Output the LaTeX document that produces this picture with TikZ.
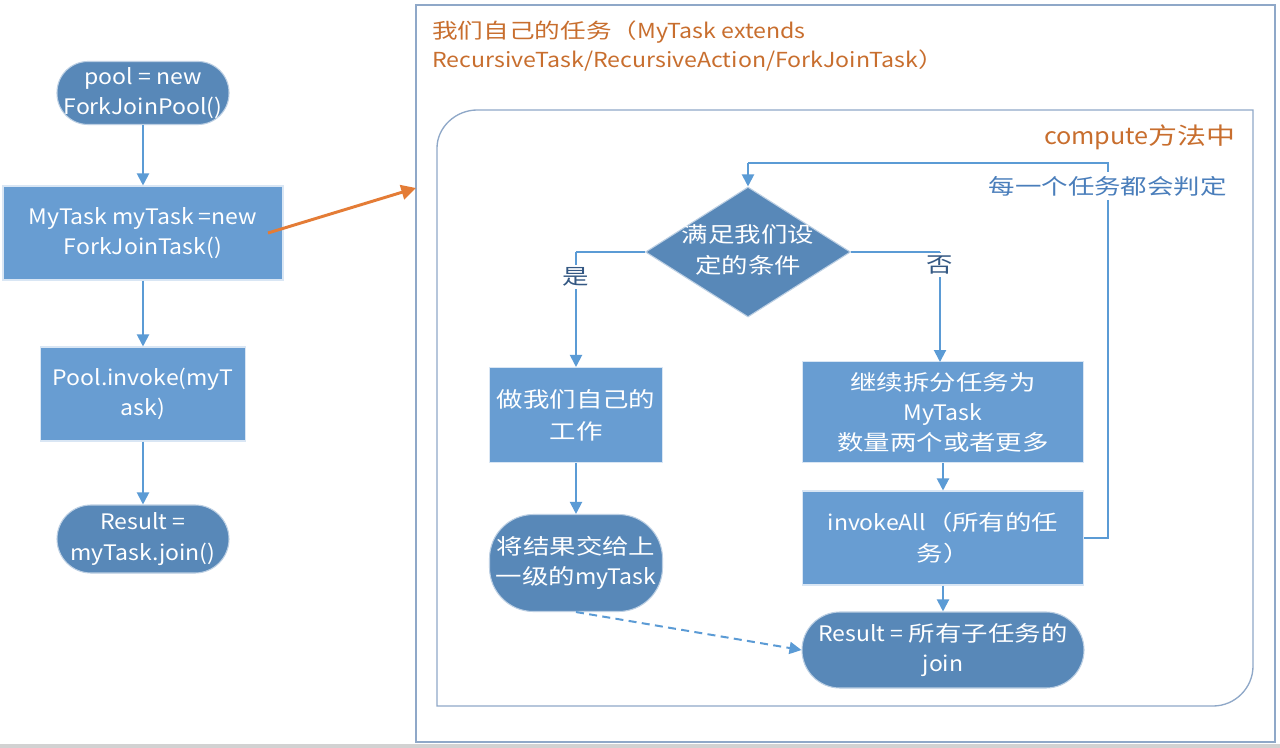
\documentclass[tikz,border=0pt]{standalone}
\usepackage{fontspec}
\setmainfont{Noto Sans CJK SC}[FakeStretch=1.08]
\newfontfamily\cj{Noto Sans CJK SC}[FakeStretch=1.24]
\newfontfamily\ttlat{Noto Sans CJK SC}[FakeStretch=1.12]
\usetikzlibrary{arrows.meta,calc,shapes.geometric}
\definecolor{darkfill}{RGB}{88,136,184}
\definecolor{lightfill}{RGB}{104,157,210}
\definecolor{arr}{RGB}{91,155,213}
\definecolor{ttl}{RGB}{200,110,46}
\definecolor{oarr}{RGB}{228,124,54}
\definecolor{lbl}{RGB}{74,126,187}
\definecolor{frame}{RGB}{143,168,200}
\tikzset{
  txt/.style={text=white,font=\fontsize{16}{23}\selectfont,align=center,inner sep=0pt},
  rectbox/.style={txt,fill=lightfill,draw=white!75!lightfill,line width=0.8pt},
  stadium/.style={txt,fill=darkfill,draw=white!60!darkfill,line width=0.8pt},
  flow/.style={draw=arr,line width=1.5pt,-{Triangle[width=9pt,length=9pt]}},
  plain/.style={draw=arr,line width=1.5pt},
  lab/.style={fill=white,inner sep=2pt,font=\fontsize{16}{23}\selectfont\cj},
}
\begin{document}
\begin{tikzpicture}[x=0.75pt,y=-0.75pt]
\useasboundingbox (0,0) rectangle (1280,748);
\fill[white] (0,0) rectangle (1280,748);
\fill[gray!35] (0,744) rectangle (1280,748);
% left column
\node[stadium,minimum width={172*0.75pt},minimum height={63*0.75pt},rounded corners={31*0.75pt}] (pool) at (143,93) {pool = new\\ForkJoinPool()};
\node[rectbox,minimum width={280*0.75pt},minimum height={94*0.75pt}] (mytask) at (143,233) {MyTask myTask =new\\ForkJoinTask()};
\node[rectbox,minimum width={205*0.75pt},minimum height={94*0.75pt}] (invoke) at (143,394) {Pool.invoke(myT\\ask)};
\node[stadium,minimum width={172*0.75pt},minimum height={68*0.75pt},rounded corners={34*0.75pt}] (result) at (143,539) {Result =\\myTask.join()};
\draw[flow] (pool) -- (mytask);
\draw[flow] (mytask) -- (invoke);
\draw[flow] (invoke) -- (result);
% outer frame
\draw[frame,line width=1pt] (416,5) rectangle (1275,742);
\node[anchor=north west,text=ttl,align=left,inner sep=0pt,font=\fontsize{15.5}{21.5}\selectfont\ttlat] (title) at (432,21) {{\cj 我们自己的任务（}MyTask extends\\RecursiveTask/RecursiveAction/ForkJoinTask{\cj ）}};
\coordinate (oa) at (268,233);
\coordinate (ob) at (416,188);
\draw[oarr,line width=2.2pt,-{Triangle[width=11pt,length=11pt]}] (oa) -- (ob);
% inner frame
\draw[frame,line width=1pt] (437,706) -- (437,148) .. controls (437,127) and (456,110) .. (477,110) -- (1253,110) -- (1253,666) .. controls (1253,688) and (1235,706) .. (1213,706) -- cycle;
\node[anchor=north east,text=ttl,inner sep=0pt,font=\fontsize{17.5}{21}\selectfont] (comp) at (1236,124) {compute{\cj 方法中}};
% diamond
\node[fill=darkfill,draw=white!60!darkfill,line width=0.8pt,shape=diamond,minimum width={205*0.75pt},minimum height={130*0.75pt},inner sep=0pt] (cond) at (748,252) {};
\node[txt,font=\fontsize{16}{23}\selectfont\cj] (condt) at (748,250) {满足我们设\\定的条件};
\node[rectbox,minimum width={173*0.75pt},minimum height={95*0.75pt},font=\fontsize{16}{24}\selectfont\cj] (work) at (576,415) {做我们自己的\\工作};
\node[stadium,minimum width={173*0.75pt},minimum height={97*0.75pt},rounded corners={44*0.75pt}] (give) at (576,563) {{\cj 将结果交给上}\\{\cj 一级的}myTask};
\node[rectbox,minimum width={281*0.75pt},minimum height={101*0.75pt},font=\fontsize{16}{22.5}\selectfont] (split) at (943,412) {{\cj 继续拆分任务为}\\MyTask\\{\cj 数量两个或者更多}};
\node[rectbox,minimum width={281*0.75pt},minimum height={94*0.75pt}] (all) at (943,538) {invokeAll{\cj （所有的任}\\{\cj 务）}};
\node[stadium,minimum width={282*0.75pt},minimum height={76*0.75pt},rounded corners={38*0.75pt}] (sub) at (943,650) {Result = {\cj 所有子任务的}\\join};
% connectors
\coordinate (yc) at (576,252);
\coordinate (nc) at (940,252);
\draw[plain] (cond.west) -- (yc);
\draw[flow] (yc) -- (work.north);
\node[lab,text=lbl!70!black] (yes) at (576,277) {是};
\draw[plain] (cond.east) -- (nc);
\draw[flow] (nc) -- (940,362);
\node[lab,text=lbl!70!black] (no) at (940,265) {否};
\draw[flow] (work) -- (give);
\draw[flow] (split) -- (all);
\draw[flow] (all) -- (sub);
\coordinate (l1) at (1108,538);
\coordinate (l2) at (1108,163);
\coordinate (l3) at (748,163);
\draw[plain] (all.east) -- (l1) -- (l2) -- (l3);
\draw[flow] (l3) -- (cond.north);
\node[anchor=east,lab,text=lbl,inner sep=3pt] (every) at (1231,186) {每一个任务都会判定};
\draw[draw=arr,line width=1.5pt,dashed,dash pattern=on 6pt off 4pt,-{Triangle[width=9pt,length=9pt]}] (give.south) -- (sub.west);
\end{tikzpicture}
\end{document}
